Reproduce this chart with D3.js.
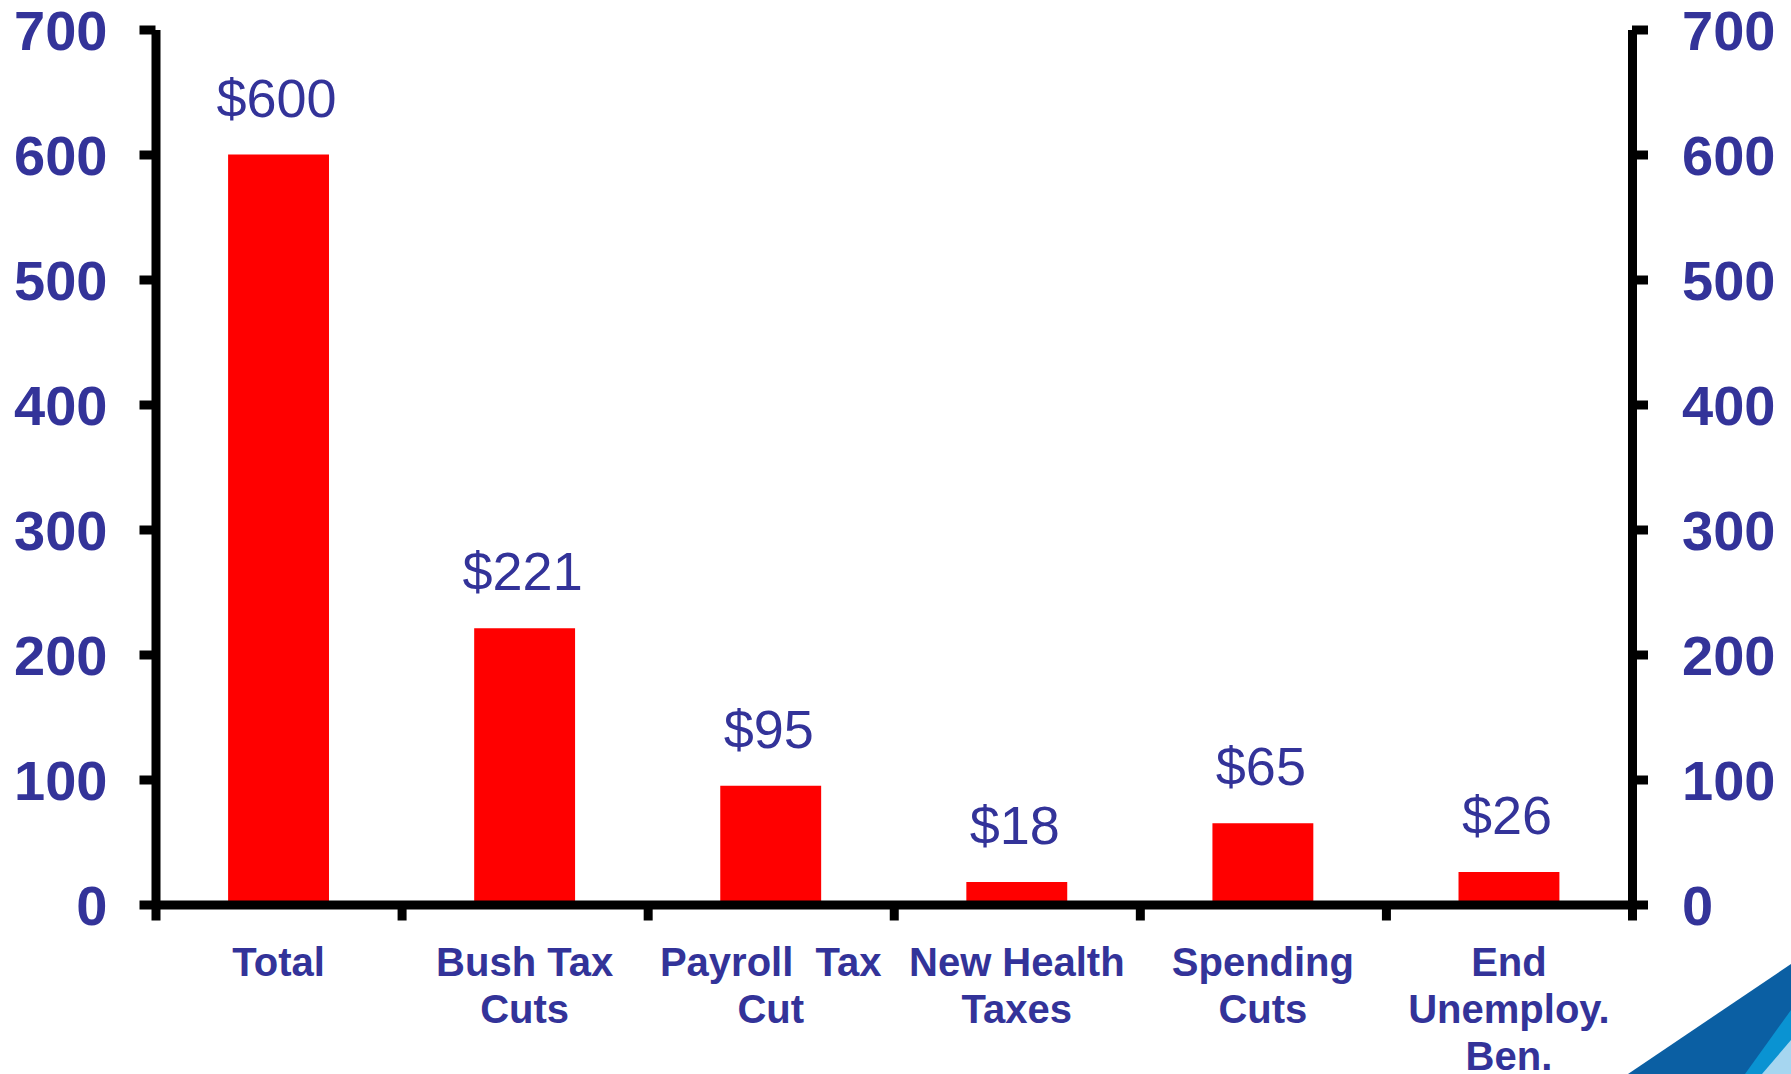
<!DOCTYPE html>
<html>
<head>
<meta charset="utf-8">
<script src="https://cdn.jsdelivr.net/npm/d3@7"></script>
<style>
  html, body { margin: 0; padding: 0; background: #fff; }
  svg { display: block; }
  text { font-family: "Liberation Sans", Arial, sans-serif; }
</style>
</head>
<body>
<svg id="chart" width="1791" height="1074"></svg>
<script>
// Category labels (one array entry per line of text)
const categories = [
  ["Total"],
  ["Bush Tax", "Cuts"],
  ["Payroll\u00a0\u00a0Tax", "Cut"],
  ["New Health", "Taxes"],
  ["Spending", "Cuts"],
  ["End", "Unemploy.", "Ben."]
];
// Amounts in billions of dollars
const values = [600, 221, 95, 18, 65, 26];
const valueLabels = ["$600", "$221", "$95", "$18", "$65", "$26"];
const yTicks = [0, 100, 200, 300, 400, 500, 600, 700];

const textColor = "#333399";
const barColor = "#ff0000";

const svg = d3.select("#chart");

const plotLeft = 155.5, plotRight = 1632, plotTop = 29.5, plotBottom = 904.5;

const y = d3.scaleLinear().domain([0, 700]).range([plotBottom, plotTop]);
const x = d3.scaleBand().domain(d3.range(categories.length)).range([plotLeft, plotRight]);
const xEdges = d3.scaleLinear().domain([0, categories.length]).range([plotLeft, plotRight]);
const barW = x.bandwidth() * 0.41;

// Bars
svg.append("g").selectAll("rect")
  .data(values)
  .join("rect")
  .attr("x", (d, i) => x(i) + (x.bandwidth() - barW) / 2)
  .attr("width", barW)
  .attr("y", d => y(d))
  .attr("height", d => y(0) - y(d))
  .attr("fill", barColor);

// Value labels above the bars
svg.append("g").selectAll("text")
  .data(values)
  .join("text")
  .attr("x", (d, i) => x(i) + x.bandwidth() / 2 - 2)
  .attr("y", d => y(d) - 38)
  .attr("text-anchor", "middle")
  .attr("font-size", 54)
  .attr("fill", textColor)
  .text((d, i) => valueLabels[i]);

function styleAxis(g) {
  g.select(".domain").attr("stroke", "#000").attr("stroke-width", 9).attr("stroke-linecap", "butt");
  g.selectAll(".tick line").attr("stroke", "#000").attr("stroke-width", 9);
}

// Left value axis
const yl = svg.append("g")
  .attr("transform", `translate(${plotLeft},0)`)
  .call(d3.axisLeft(y).tickValues(yTicks).tickSize(16).tickSizeOuter(0).tickPadding(32));
styleAxis(yl);
yl.selectAll(".tick text")
  .attr("font-size", 56).attr("font-weight", "bold").attr("fill", textColor)
  .attr("font-family", "'Liberation Sans', Arial, sans-serif")
  .attr("dy", "0.36em");

// Right value axis
const yr = svg.append("g")
  .attr("transform", `translate(${plotRight},0)`)
  .call(d3.axisRight(y).tickValues(yTicks).tickSize(16).tickSizeOuter(0).tickPadding(34));
styleAxis(yr);
yr.selectAll(".tick text")
  .attr("font-size", 56).attr("font-weight", "bold").attr("fill", textColor)
  .attr("font-family", "'Liberation Sans', Arial, sans-serif")
  .attr("dy", "0.36em");

// Category axis with ticks on the band boundaries
const xa = svg.append("g")
  .attr("transform", `translate(0,${plotBottom})`)
  .call(d3.axisBottom(xEdges).tickValues(d3.range(categories.length + 1)).tickSize(16).tickSizeOuter(0).tickFormat(""));
styleAxis(xa);

// Category labels
const lineH = 47;
const catG = svg.append("g").selectAll("text")
  .data(categories)
  .join("text")
  .attr("text-anchor", "middle")
  .attr("font-size", 40)
  .attr("font-weight", "bold")
  .attr("fill", textColor)
  .attr("transform", (d, i) => `translate(${x(i) + x.bandwidth() / 2},976)`);
catG.selectAll("tspan")
  .data(d => d)
  .join("tspan")
  .attr("x", 0)
  .attr("y", (d, j) => j * lineH)
  .text(d => d);

// Slide corner ornament
const deco = svg.append("g");
deco.append("polygon").attr("points", "1628,1074 1791,964 1791,1074").attr("fill", "#0b5fa3");
deco.append("polygon").attr("points", "1745,1074 1791,1010 1791,1074").attr("fill", "#0a93d2");
deco.append("polygon").attr("points", "1762,1074 1791,1040 1791,1074").attr("fill", "#a6d6f0");
</script>
</body>
</html>
